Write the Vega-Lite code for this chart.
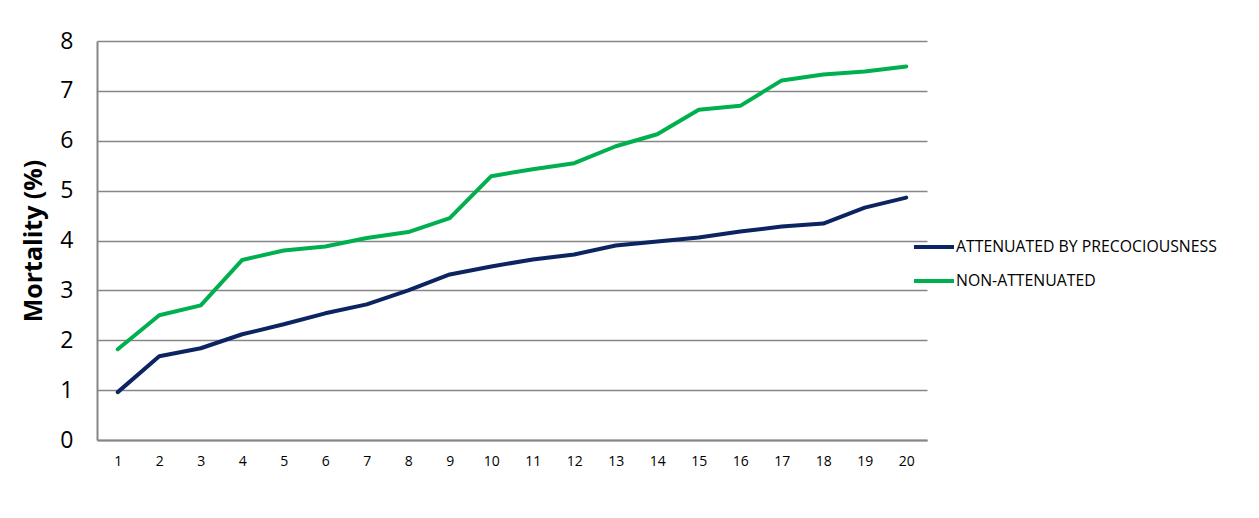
{
  "$schema": "https://vega.github.io/schema/vega-lite/v6.json",
  "autosize": {"type": "none"},
  "width": 830,
  "height": 399,
  "padding": {"left": 97, "top": 41, "right": 332, "bottom": 78},
  "background": "white",
  "config": {"view": {"stroke": null}, "font": "Open Sans"},
  "data": {"values": [
    {"x": 1, "s": "ATTENUATED BY PRECOCIOUSNESS", "v": 0.96},
    {"x": 2, "s": "ATTENUATED BY PRECOCIOUSNESS", "v": 1.68},
    {"x": 3, "s": "ATTENUATED BY PRECOCIOUSNESS", "v": 1.84},
    {"x": 4, "s": "ATTENUATED BY PRECOCIOUSNESS", "v": 2.12},
    {"x": 5, "s": "ATTENUATED BY PRECOCIOUSNESS", "v": 2.32},
    {"x": 6, "s": "ATTENUATED BY PRECOCIOUSNESS", "v": 2.54},
    {"x": 7, "s": "ATTENUATED BY PRECOCIOUSNESS", "v": 2.72},
    {"x": 8, "s": "ATTENUATED BY PRECOCIOUSNESS", "v": 3.0},
    {"x": 9, "s": "ATTENUATED BY PRECOCIOUSNESS", "v": 3.32},
    {"x": 10, "s": "ATTENUATED BY PRECOCIOUSNESS", "v": 3.48},
    {"x": 11, "s": "ATTENUATED BY PRECOCIOUSNESS", "v": 3.62},
    {"x": 12, "s": "ATTENUATED BY PRECOCIOUSNESS", "v": 3.72},
    {"x": 13, "s": "ATTENUATED BY PRECOCIOUSNESS", "v": 3.9},
    {"x": 14, "s": "ATTENUATED BY PRECOCIOUSNESS", "v": 3.98},
    {"x": 15, "s": "ATTENUATED BY PRECOCIOUSNESS", "v": 4.06},
    {"x": 16, "s": "ATTENUATED BY PRECOCIOUSNESS", "v": 4.18},
    {"x": 17, "s": "ATTENUATED BY PRECOCIOUSNESS", "v": 4.28},
    {"x": 18, "s": "ATTENUATED BY PRECOCIOUSNESS", "v": 4.34},
    {"x": 19, "s": "ATTENUATED BY PRECOCIOUSNESS", "v": 4.66},
    {"x": 20, "s": "ATTENUATED BY PRECOCIOUSNESS", "v": 4.86},
    {"x": 1, "s": "NON-ATTENUATED", "v": 1.82},
    {"x": 2, "s": "NON-ATTENUATED", "v": 2.5},
    {"x": 3, "s": "NON-ATTENUATED", "v": 2.7},
    {"x": 4, "s": "NON-ATTENUATED", "v": 3.61},
    {"x": 5, "s": "NON-ATTENUATED", "v": 3.8},
    {"x": 6, "s": "NON-ATTENUATED", "v": 3.88},
    {"x": 7, "s": "NON-ATTENUATED", "v": 4.05},
    {"x": 8, "s": "NON-ATTENUATED", "v": 4.17},
    {"x": 9, "s": "NON-ATTENUATED", "v": 4.45},
    {"x": 10, "s": "NON-ATTENUATED", "v": 5.29},
    {"x": 11, "s": "NON-ATTENUATED", "v": 5.43},
    {"x": 12, "s": "NON-ATTENUATED", "v": 5.55},
    {"x": 13, "s": "NON-ATTENUATED", "v": 5.89},
    {"x": 14, "s": "NON-ATTENUATED", "v": 6.13},
    {"x": 15, "s": "NON-ATTENUATED", "v": 6.62},
    {"x": 16, "s": "NON-ATTENUATED", "v": 6.7},
    {"x": 17, "s": "NON-ATTENUATED", "v": 7.21},
    {"x": 18, "s": "NON-ATTENUATED", "v": 7.33},
    {"x": 19, "s": "NON-ATTENUATED", "v": 7.39},
    {"x": 20, "s": "NON-ATTENUATED", "v": 7.49}
  ]},
  "mark": {"type": "line", "strokeWidth": 4, "strokeCap": "round", "strokeJoin": "round"},
  "encoding": {
    "x": {
      "field": "x", "type": "ordinal", "sort": null,
      "scale": {"type": "point", "padding": 0.5},
      "axis": {"title": null, "labelAngle": 0, "labelFontSize": 14, "labelColor": "#000000", "labelPadding": 14, "ticks": false, "domain": true, "domainColor": "#868686", "domainWidth": 2, "grid": false}
    },
    "y": {
      "field": "v", "type": "quantitative",
      "scale": {"domain": [0, 8], "nice": false},
      "axis": {"title": "Mortality (%)", "titleFontSize": 25, "titleFontWeight": "bold", "titleColor": "#000000", "titlePadding": 13, "values": [0,1,2,3,4,5,6,7,8], "labelOverlap": false, "labelFontSize": 23, "labelColor": "#000000", "labelPadding": 24, "ticks": false, "domain": true, "domainColor": "#868686", "domainWidth": 2, "grid": true, "gridColor": "#868686", "gridWidth": 1.5}
    },
    "color": {
      "field": "s", "type": "nominal",
      "scale": {"domain": ["ATTENUATED BY PRECOCIOUSNESS", "NON-ATTENUATED"], "range": ["#0c2461", "#00b04f"]},
      "legend": {"title": null, "orient": "none", "legendX": 815, "legendY": 184, "symbolType": "stroke", "symbolSize": 1600, "symbolStrokeWidth": 4, "labelFontSize": 15.8, "labelColor": "#000000", "labelOffset": 0, "rowPadding": 4, "labelLimit": 400}
    }
  }
}
